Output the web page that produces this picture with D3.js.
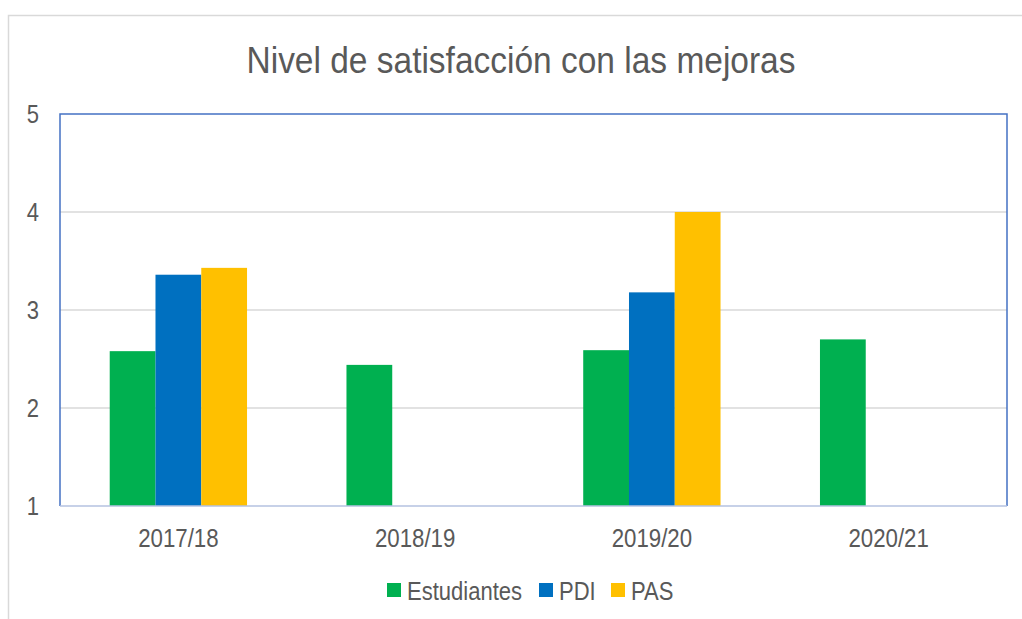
<!DOCTYPE html>
<html>
<head>
<meta charset="utf-8">
<script src="https://cdn.jsdelivr.net/npm/d3@7"></script>
<style>
  body { margin: 0; background: #fff; }
  text { font-family: "Liberation Sans", Arial, sans-serif; fill: #595959; }
</style>
</head>
<body>
<div id="chart"></div>
<script>
// data
var years       = ["2017/18", "2018/19", "2019/20", "2020/21"];
var seriesNames = ["Estudiantes", "PDI", "PAS"];
var estudiantes = [2.58, 2.44, 2.59, 2.70];
var pdi         = [3.36, null, 3.18, null];
var pas         = [3.43, null, 4.00, null];
var yTicks      = [1, 2, 3, 4, 5];
var colors      = ["#00B050", "#0070C0", "#FFC000"];

var allSeries = [estudiantes, pdi, pas];

var W = 1022, H = 619;
var margin = {top: 114, right: 15, bottom: 113, left: 60},
    width  = W - margin.left - margin.right,
    height = H - margin.top - margin.bottom;

// text in the original is a bit narrower than Liberation Sans
function squeeze(sel, f) {
  sel.each(function() {
    var n = this.getComputedTextLength();
    d3.select(this)
      .attr("textLength", n * f)
      .attr("lengthAdjust", "spacingAndGlyphs");
  });
}

var svg = d3.select("#chart")
  .append("svg")
    .attr("width", W)
    .attr("height", H);

// outer chart frame (runs off the right and bottom edge)
svg.append("rect")
  .attr("x", 8.5).attr("y", 15.5)
  .attr("width", W).attr("height", H)
  .attr("fill", "none")
  .attr("stroke", "#D9D9D9")
  .attr("stroke-width", 1.5);

svg.append("text")
  .attr("x", 521).attr("y", 73)
  .attr("text-anchor", "middle")
  .style("font-size", "36px")
  .text("Nivel de satisfacción con las mejoras")
  .call(squeeze, 0.93);

var g = svg.append("g")
  .attr("transform", "translate(" + margin.left + "," + margin.top + ")");

var x = d3.scaleBand()
  .domain(years)
  .range([0, width])
  .paddingInner(0)
  .paddingOuter(0);

var groupW = x.bandwidth() * 0.58;
var x1 = d3.scaleBand()
  .domain(seriesNames)
  .range([(x.bandwidth() - groupW) / 2, (x.bandwidth() + groupW) / 2]);

var y = d3.scaleLinear()
  .domain([1, 5])
  .range([height, 0]);

// gridlines
g.append("g")
  .selectAll("line")
  .data(yTicks.filter(function(d) { return d > 1 && d < 5; }))
  .enter().append("line")
    .attr("x1", 0).attr("x2", width)
    .attr("y1", function(d) { return y(d); })
    .attr("y2", function(d) { return y(d); })
    .attr("stroke", "#D9D9D9")
    .attr("stroke-width", 1.5);

// bars
var rows = [];
years.forEach(function(yr, i) {
  seriesNames.forEach(function(s, j) {
    if (allSeries[j][i] != null) rows.push({year: yr, name: s, value: allSeries[j][i], c: colors[j]});
  });
});

g.selectAll("rect.bar")
  .data(rows)
  .enter().append("rect")
    .attr("class", "bar")
    .attr("x", function(d) { return x(d.year) + x1(d.name); })
    .attr("y", function(d) { return y(d.value); })
    .attr("width", x1.bandwidth())
    .attr("height", function(d) { return height - y(d.value); })
    .attr("fill", function(d) { return d.c; });

// plot frame: blue top / left / right, lighter bottom axis
g.append("path")
  .attr("d", "M0," + height + "V0H" + width + "V" + height)
  .attr("fill", "none")
  .attr("stroke", "#4472C4")
  .attr("stroke-width", 1.5);
g.append("line")
  .attr("x1", 0).attr("x2", width)
  .attr("y1", height).attr("y2", height)
  .attr("stroke", "#B4C2E0")
  .attr("stroke-width", 1.5);

// y axis labels
var yAxis = g.append("g")
  .call(d3.axisLeft(y).tickValues(yTicks).tickSize(0).tickPadding(21).tickFormat(d3.format("d")));
yAxis.select(".domain").remove();
yAxis.selectAll("text")
  .attr("dy", "0.35em")
  .style("font-size", "25.6px")
  .style("fill", "#595959")
  .call(squeeze, 0.86);

// x axis labels
var xAxis = g.append("g")
  .attr("transform", "translate(0," + height + ")")
  .call(d3.axisBottom(x).tickSize(0).tickPadding(23));
xAxis.select(".domain").remove();
xAxis.selectAll("text")
  .style("font-size", "25.6px")
  .style("fill", "#595959")
  .call(squeeze, 0.87);

// legend
var legendX = [387, 539, 611];
var legend = svg.append("g");
seriesNames.forEach(function(s, i) {
  legend.append("rect")
    .attr("x", legendX[i]).attr("y", 583)
    .attr("width", 14).attr("height", 14)
    .attr("fill", colors[i]);
  legend.append("text")
    .attr("x", legendX[i] + 20).attr("y", 600)
    .style("font-size", "25.6px")
    .text(s)
    .call(squeeze, 0.86);
});
</script>
</body>
</html>
